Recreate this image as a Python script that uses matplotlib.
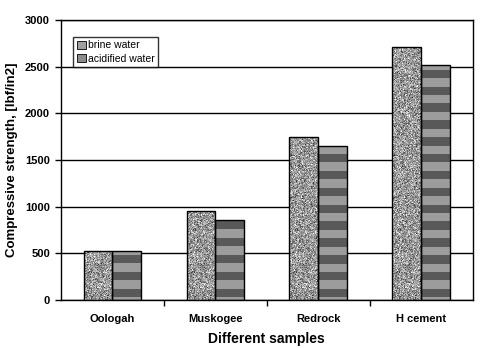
import numpy as np
import matplotlib
matplotlib.use("Agg")
import matplotlib.pyplot as plt
from matplotlib.patches import Patch

samples = ["Oologah", "Muskogee", "Redrock", "H cement"]
brine = [530, 950, 1750, 2710]
acidified = [520, 860, 1655, 2520]

plt.rcParams['font.family'] = ['Liberation Sans', 'DejaVu Sans']
plt.rcParams['font.weight'] = 'bold'

fig = plt.figure(figsize=(4.89, 3.48), dpi=100)
ax = fig.add_axes([0.1247, 0.138, 0.842, 0.8045])

x = np.arange(len(samples))
w = 0.28

# textures: granite-like speckle and horizontal grey stripes
rng = np.random.default_rng(3)
speckle = rng.normal(0.6, 0.15, size=(300, 30)).clip(0.2, 1.0)
ys = np.arange(3000)
stripe_rows = np.where(((ys - 29) // 90) % 2 == 0, 0.35, 0.61)[::-1]
stripes = np.repeat(stripe_rows[:, None], 2, axis=1)

b1 = ax.bar(x - w / 2, brine, w, facecolor='none', edgecolor='black', lw=1, zorder=3)
b2 = ax.bar(x + w / 2, acidified, w, facecolor='none', edgecolor='black', lw=1, zorder=3)
for bar in b1:
    x0 = bar.get_x()
    im = ax.imshow(speckle, extent=(x0, x0 + w, 0, 3000), aspect='auto', cmap='gray',
                   vmin=0, vmax=1, interpolation='nearest', zorder=2)
    im.set_clip_path(bar)
for bar in b2:
    x0 = bar.get_x()
    im = ax.imshow(stripes, extent=(x0, x0 + w, 0, 3000), aspect='auto', cmap='gray',
                   vmin=0, vmax=1, interpolation='nearest', zorder=2)
    im.set_clip_path(bar)

ax.set_xlim(-0.5, len(samples) - 0.5)
ax.set_ylim(0, 3000)
ax.set_yticks(np.arange(0, 3001, 500))
ax.set_xticks(x)
ax.set_xticklabels(samples, fontsize=8, fontweight='bold')
ax.set_xticks(np.arange(0.5, len(samples) - 0.5, 1), minor=True)
ax.tick_params(axis='x', which='major', length=0, pad=10)
ax.tick_params(axis='x', which='minor', length=4, width=1, direction='out')
ax.tick_params(axis='y', length=4, width=1, direction='out', labelsize=8, pad=4)
for lab in ax.get_yticklabels():
    lab.set_fontweight('bold')
ax.yaxis.grid(True, color='black', lw=1, zorder=0)
ax.set_axisbelow(True)
for s in ax.spines.values():
    s.set_linewidth(1)

ax.set_xlabel("Different samples", fontsize=10, fontweight='bold', labelpad=6)
ax.set_ylabel("Compressive strength, [lbf/in2]", fontsize=9.5, fontweight='bold', labelpad=5)

handles = [Patch(facecolor='#a0a0a0', edgecolor='black', lw=0.6, label='brine water'),
           Patch(facecolor='#8c8c8c', edgecolor='black', lw=0.6, label='acidified water')]
leg = ax.legend(handles=handles, loc='upper left', bbox_to_anchor=(0.029, 0.94),
                fontsize=7.5, frameon=True, fancybox=False, edgecolor='black',
                handlelength=0.9, handleheight=0.9, handletextpad=0.2,
                borderpad=0.35, labelspacing=0.3, borderaxespad=0)
leg.get_frame().set_linewidth(1)
for t in leg.get_texts():
    t.set_fontweight('normal')

fig.savefig("out.png", dpi=100)
